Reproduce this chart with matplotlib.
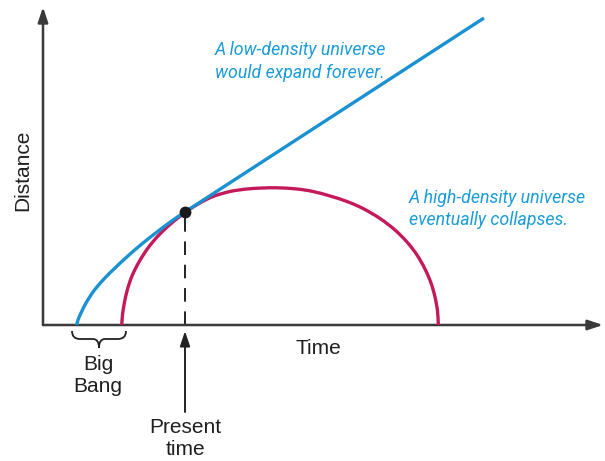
import numpy as np
import matplotlib
matplotlib.use("Agg")
import matplotlib.pyplot as plt
from matplotlib.path import Path
from matplotlib.patches import PathPatch

# Curves in diagram units (time to the right, distance upward)
low_density_time = [33.7, 35, 38, 43, 50, 60, 72, 86, 100, 114, 128, 142, 157, 441]
low_density_dist = [0, 5, 12, 22, 33, 45, 57, 70, 82, 93, 103.5, 113, 122.8, 307]

high_density_time = [78.7, 79.5, 81, 84, 89, 96, 105, 115, 127, 142, 156, 170, 187,
                     204, 220, 234, 254, 270, 287, 304, 320, 337, 352, 364, 374, 382,
                     388, 392, 394.5, 395.3]
high_density_dist = [0, 10, 20, 34, 49, 63, 77, 89, 100.5, 112.5, 121.5, 128.5, 133.5,
                     136, 137, 137.2, 136, 133.5, 129, 123.5, 116.5, 106.5, 95, 83, 70, 56,
                     42, 28, 14, 0]

present_time = 142
present_dist = 113
big_bang_span = [29, 83]

BLUE = "#1a91d1"
RED = "#c41a5c"
AXIS = "#3a3a3a"
TEXT_BLUE = "#1a9cd8"


def smooth_path(xs, ys):
    """Chord-length Catmull-Rom spline through the points, as cubic Bezier segments."""
    pts = np.column_stack([xs, ys]).astype(float)
    seg = np.hypot(*np.diff(pts, axis=0).T)
    t = np.concatenate([[0], np.cumsum(seg)])
    n = len(pts)
    tang = np.zeros_like(pts)
    for i in range(n):
        a, b = max(i - 1, 0), min(i + 1, n - 1)
        tang[i] = (pts[b] - pts[a]) / (t[b] - t[a])
    verts = [pts[0]]
    codes = [Path.MOVETO]
    for i in range(n - 1):
        h = seg[i]
        verts += [pts[i] + tang[i] * h / 3, pts[i + 1] - tang[i + 1] * h / 3, pts[i + 1]]
        codes += [Path.CURVE4] * 3
    return Path(verts, codes)


fig = plt.figure(figsize=(6.05, 4.61), dpi=100)
ax = fig.add_axes([0, 0, 1, 1])
ax.set_xlim(-43, 562)
ax.set_ylim(-136, 325)
ax.axis("off")

# Axes with arrowheads
arrow_kw = dict(arrowstyle="-|>,head_length=0.9,head_width=0.3", color=AXIS, lw=1.8,
                shrinkA=0, shrinkB=0)
ax.annotate("", xy=(0, 318), xytext=(0, 0), arrowprops=arrow_kw)
ax.annotate("", xy=(560, 0), xytext=(0, 0), arrowprops=arrow_kw)

# Expansion histories
ax.add_patch(PathPatch(smooth_path(high_density_time, high_density_dist),
                       fill=False, edgecolor=RED, lw=2.4, capstyle="butt", zorder=3))
ax.add_patch(PathPatch(smooth_path(low_density_time, low_density_dist),
                       fill=False, edgecolor=BLUE, lw=2.4, capstyle="butt", zorder=4))

# Present moment
ax.plot([present_time, present_time], [0, present_dist], color="#222222", lw=1.4,
        dashes=(7, 5), zorder=2)
ax.plot([present_time], [present_dist], "o", color="#1a1a1a", ms=7.5, zorder=5)

ax.annotate("", xy=(present_time, -6), xytext=(present_time, -87),
            arrowprops=dict(arrowstyle="-|>,head_length=0.9,head_width=0.3",
                            color="#222222", lw=1.4, shrinkA=0, shrinkB=0))

label_font = dict(family="Liberation Sans", fontsize=15, color="#1f1f1f")
ax.text(present_time, -113.5, "Present\ntime", ha="center", va="center",
        linespacing=1.2, **label_font)

# Big Bang brace
x0, x1 = big_bang_span
xm = (x0 + x1) / 2
top, mid, tip = -6, -14, -23
brace_verts = [(x0, top), (x0, mid), (x0 + 8, mid), (xm - 6, mid), (xm, mid), (xm, tip),
               (xm, mid), (xm + 6, mid), (x1 - 8, mid), (x1, mid), (x1, top)]
brace_codes = [Path.MOVETO, Path.CURVE3, Path.CURVE3, Path.LINETO, Path.CURVE3, Path.CURVE3,
               Path.CURVE3, Path.CURVE3, Path.LINETO, Path.CURVE3, Path.CURVE3]
ax.add_patch(PathPatch(Path(brace_verts, brace_codes), fill=False, edgecolor="#222222", lw=1.3))
ax.text(xm - 1, -50, "Big\nBang", ha="center", va="center", linespacing=1.2, **label_font)

# Axis titles
ax.text(275, -23, "Time", ha="center", va="center", **label_font)
ax.text(-20, 155, "Distance", ha="center", va="center", rotation=90, **label_font)

# Curve captions
caption_font = dict(family="Roboto", fontsize=12.8, style="italic", weight="normal",
                    color=TEXT_BLUE, linespacing=1.3)
ax.text(172, 263.5, "A low-density universe\nwould expand forever.", ha="left", va="center",
        **caption_font)
ax.text(366, 116, "A high-density universe\neventually collapses.", ha="left", va="center",
        **caption_font)

fig.savefig("out.png", dpi=100)
